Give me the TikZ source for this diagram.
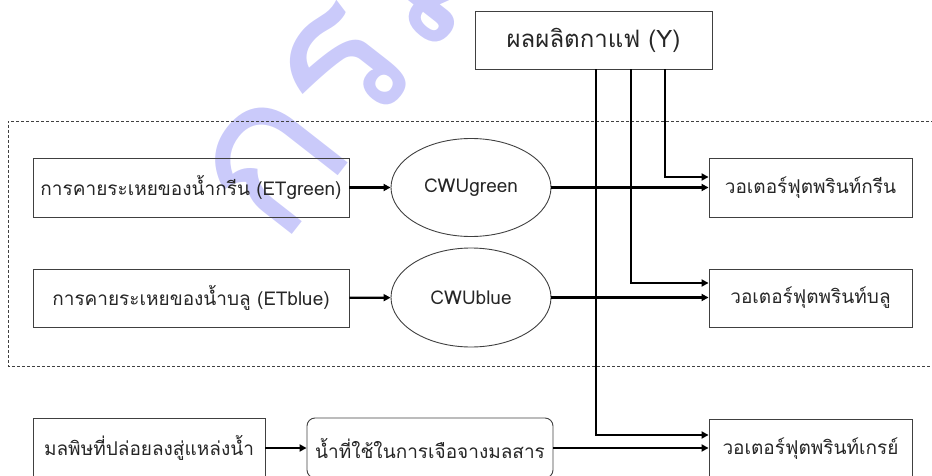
\documentclass[tikz,border=0pt]{standalone}
\usepackage{fontspec}
\setmainfont[Script=Thai]{Loma}
\usetikzlibrary{arrows.meta,shapes.geometric}
\definecolor{wm}{RGB}{202,202,250}
\definecolor{bord}{RGB}{64,64,64}
\definecolor{txt}{RGB}{38,38,38}
\begin{document}
\begin{tikzpicture}[x=1pt,y=-1pt,
  base/.style={draw=bord,line width=0.9pt,inner sep=0pt,text=txt,font=\fontsize{19}{22}\selectfont},
  box/.style={base,rectangle},
  rbox/.style={base,rectangle,rounded corners=8pt},
  oval/.style={base,ellipse},
  conn/.style={draw=black,line width=2.2pt,-{Triangle[length=7pt,width=7pt]}},
  frame/.style={draw=bord,line width=0.8pt,dash pattern=on 3pt off 2pt}]
\useasboundingbox (0,0) rectangle (932,476);
\clip (0,0) rectangle (932,476);
% watermark
\node[rotate=52,anchor=base west,inner sep=0pt,text=wm,font=\fontsize{208}{208}\selectfont] (mark) at (280,250) {กรมวิช};
% dashed group frame
\draw[frame] (934,121) -- (8,121) -- (8,366) -- (934,366);
% nodes
\node[box,minimum width=237pt,minimum height=58pt,font=\fontsize{24}{28}\selectfont] (Y) at (593.5,40) {ผลผลิตกาแฟ (Y)};
\node[box,minimum width=316pt,minimum height=59pt] (ETg) at (191,187.5) {การคายระเหยของน้ำกรีน (ETgreen)};
\node[oval,minimum width=160pt,minimum height=98pt] (CWUg) at (471,187.5) {CWUgreen};
\node[box,minimum width=203pt,minimum height=59pt] (WFg) at (810.5,187.5) {วอเตอร์ฟุตพรินท์กรีน};
\node[box,minimum width=316pt,minimum height=58pt] (ETb) at (191,298) {การคายระเหยของน้ำบลู (ETblue)};
\node[oval,minimum width=160pt,minimum height=99pt] (CWUb) at (471,297.5) {CWUblue};
\node[box,minimum width=203pt,minimum height=58pt] (WFb) at (810.5,298) {วอเตอร์ฟุตพรินท์บลู};
\node[box,minimum width=232pt,minimum height=60pt] (Pol) at (149,448) {มลพิษที่ปล่อยลงสู่แหล่งน้ำ};
\node[rbox,minimum width=246pt,minimum height=60pt] (Dil) at (430,448) {น้ำที่ใช้ในการเจือจางมลสาร};
\node[box,minimum width=203pt,minimum height=60pt] (WFgr) at (810.5,449) {วอเตอร์ฟุตพรินท์เกรย์};
% connectors
\draw[conn] (ETg) -- (CWUg);
\draw[conn] (ETb) -- (CWUb);
\draw[conn] (CWUg.east) -- (CWUg.east -| WFg.west);
\draw[conn] (CWUb.east) -- (CWUb.east -| WFb.west);
\draw[conn] (Pol) -- (Dil);
\draw[conn] (Dil.east) -- (Dil.east -| WFgr.west);
\draw[conn] ([xshift=71.5pt]Y.south) |- ([yshift=10.5pt]WFg.west);
\draw[conn] ([xshift=37.5pt]Y.south) |- ([yshift=15pt]WFb.west);
\draw[conn] ([xshift=2.5pt]Y.south) |- ([yshift=14pt]WFgr.west);
\end{tikzpicture}
\end{document}
